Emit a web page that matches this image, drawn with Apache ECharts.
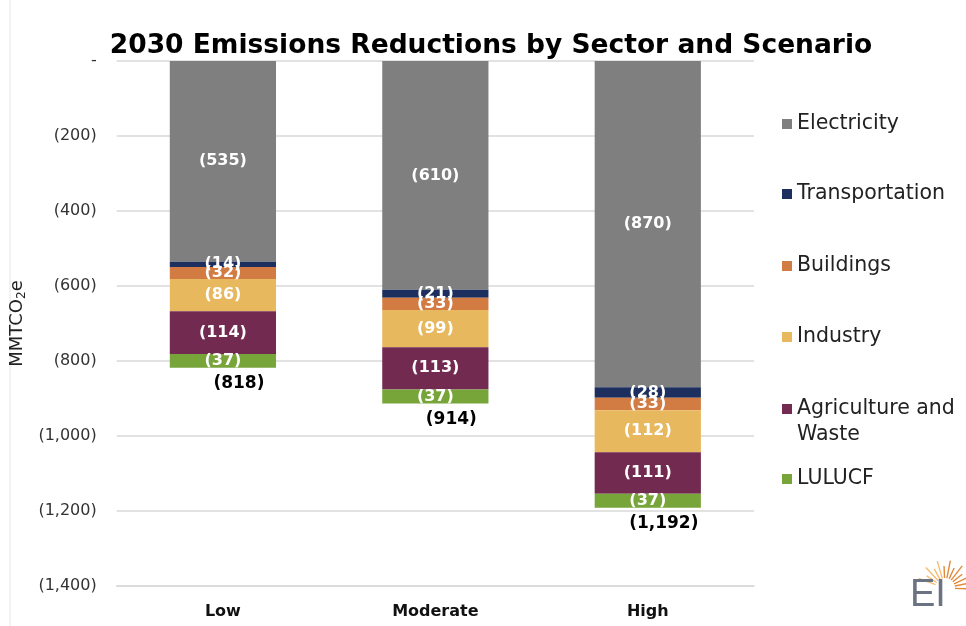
<!DOCTYPE html>
<html>
<head>
<meta charset="utf-8">
<script src="https://cdn.jsdelivr.net/npm/echarts@6/dist/echarts.min.js"></script>
<style>
  html, body { margin: 0; padding: 0; background: #fff; }
  #chart { width: 966px; height: 626px; }
</style>
</head>
<body>
<div id="chart"></div>
<script>
// scenarios and sector reductions (MMTCO2e, shown as negatives)
const scenarios = ['Low', 'Moderate', 'High'];
const sectors = ['Electricity', 'Transportation', 'Buildings', 'Industry', 'Agriculture and Waste', 'LULUCF'];
const electricity = [535, 610, 870];
const transportation = [14, 21, 28];
const buildings = [32, 33, 33];
const industry = [86, 99, 112];
const agriculture = [114, 113, 111];
const lulucf = [37, 37, 37];
const totals = [818, 914, 1192];
const yTicks = [0, -200, -400, -600, -800, -1000, -1200, -1400];

const sectorValues = [electricity, transportation, buildings, industry, agriculture, lulucf];
const colors = ['#7f7f7f', '#1c2f5e', '#d27b42', '#e8b85e', '#722a50', '#78a53a'];
const font = 'DejaVu Sans';

function paren(v) {
  if (v === 0) return '-';
  return '(' + Math.abs(v).toLocaleString('en-US') + ')';
}

const chart = echarts.init(document.getElementById('chart'));

const series = sectors.map(function (name, i) {
  return {
    name: name,
    type: 'bar',
    stack: 'total',
    barWidth: '50%',
    itemStyle: { color: colors[i] },
    label: {
      show: true,
      position: 'inside',
      color: '#fff',
      fontFamily: font,
      fontWeight: 'bold',
      fontSize: 16,
      formatter: function (p) { return paren(p.value); }
    },
    data: sectorValues[i].map(function (v) { return -v; })
  };
});

// total labels under each bar
series.push({
  name: 'Total',
  type: 'scatter',
  symbolSize: 0,
  silent: true,
  itemStyle: { opacity: 1 },
  label: {
    show: true,
    position: 'bottom',
    distance: 7,
    offset: [16, 0],
    color: '#000',
    opacity: 1,
    fontFamily: font,
    fontWeight: 'bold',
    fontSize: 17,
    formatter: function (p) { return paren(p.value); }
  },
  data: totals.map(function (v) { return -v; })
});

// one legend per item so the spacing follows the picture
const legendTops = [106, 176, 248, 319, 365, 461];
const legends = sectors.map(function (name, i) {
  return {
    data: [name],
    left: 777,
    top: legendTops[i],
    itemWidth: 10,
    itemHeight: 10,
    itemGap: 0,
    icon: 'rect',
    selectedMode: false,
    textStyle: {
      fontFamily: font,
      fontSize: 20.5,
      color: '#222',
      lineHeight: 26
    },
    // blank first line keeps the icon level with "Agriculture and"
    formatter: function (n) { return n === 'Agriculture and Waste' ? ' \nAgriculture and\nWaste' : n; }
  };
});

// little sun logo, bottom right
const logo = [];
for (let k = 0; k < 13; k++) {
  const a = (-160 + k * 13.5) * Math.PI / 180;
  const cx = 945, cy = 588;
  const r2 = k % 2 ? 22 : 28;
  logo.push({
    type: 'line',
    shape: {
      x1: cx + 10 * Math.cos(a), y1: cy + 10 * Math.sin(a),
      x2: cx + r2 * Math.cos(a), y2: cy + r2 * Math.sin(a)
    },
    style: { stroke: k < 5 ? '#f3bd72' : '#e28a3c', lineWidth: 1.4 }
  });
}
logo.push({
  type: 'text',
  style: {
    x: 910, y: 577,
    verticalAlign: 'top',
    text: 'EI',
    font: '38px "Liberation Sans"',
    fill: '#6b7282'
  }
});
logo.push({
  type: 'line',
  shape: { x1: 10, y1: 0, x2: 10, y2: 626 },
  style: { stroke: '#e6e6e6', lineWidth: 1 }
});

chart.setOption({
  animation: false,
  title: {
    text: '2030 Emissions Reductions by Sector and Scenario',
    left: 486,
    textAlign: 'center',
    top: 28,
    textStyle: { fontFamily: font, fontWeight: 'bold', fontSize: 26.5, color: '#000' }
  },
  legend: legends,
  grid: { left: 115, right: 212, top: 61, bottom: 40 },
  xAxis: {
    type: 'category',
    data: scenarios,
    position: 'bottom',
    axisLine: { onZero: false, lineStyle: { color: '#d9d9d9', width: 1.5 } },
    axisTick: { show: false },
    axisLabel: { fontFamily: font, fontWeight: 'bold', fontSize: 16, color: '#111', margin: 18 }
  },
  yAxis: {
    type: 'value',
    min: -1400,
    max: 0,
    interval: 200,
    name: '{a|MMTCO}{s|2}{a|e}',
    nameLocation: 'middle',
    nameGap: 78,
    nameRotate: 90,
    nameTextStyle: {
      rich: {
        a: { fontFamily: font, fontSize: 18, color: '#222' },
        s: { fontFamily: font, fontSize: 12, color: '#222', verticalAlign: 'bottom', padding: [9, 0, 0, 0] }
      }
    },
    axisLine: { show: false },
    axisTick: { show: false },
    splitLine: { lineStyle: { color: '#d9d9d9', width: 1.5 } },
    axisLabel: {
      fontFamily: font,
      fontSize: 16,
      color: '#333',
      margin: 20,
      customValues: yTicks,
      formatter: paren
    }
  },
  graphic: logo,
  series: series
});
</script>
</body>
</html>
